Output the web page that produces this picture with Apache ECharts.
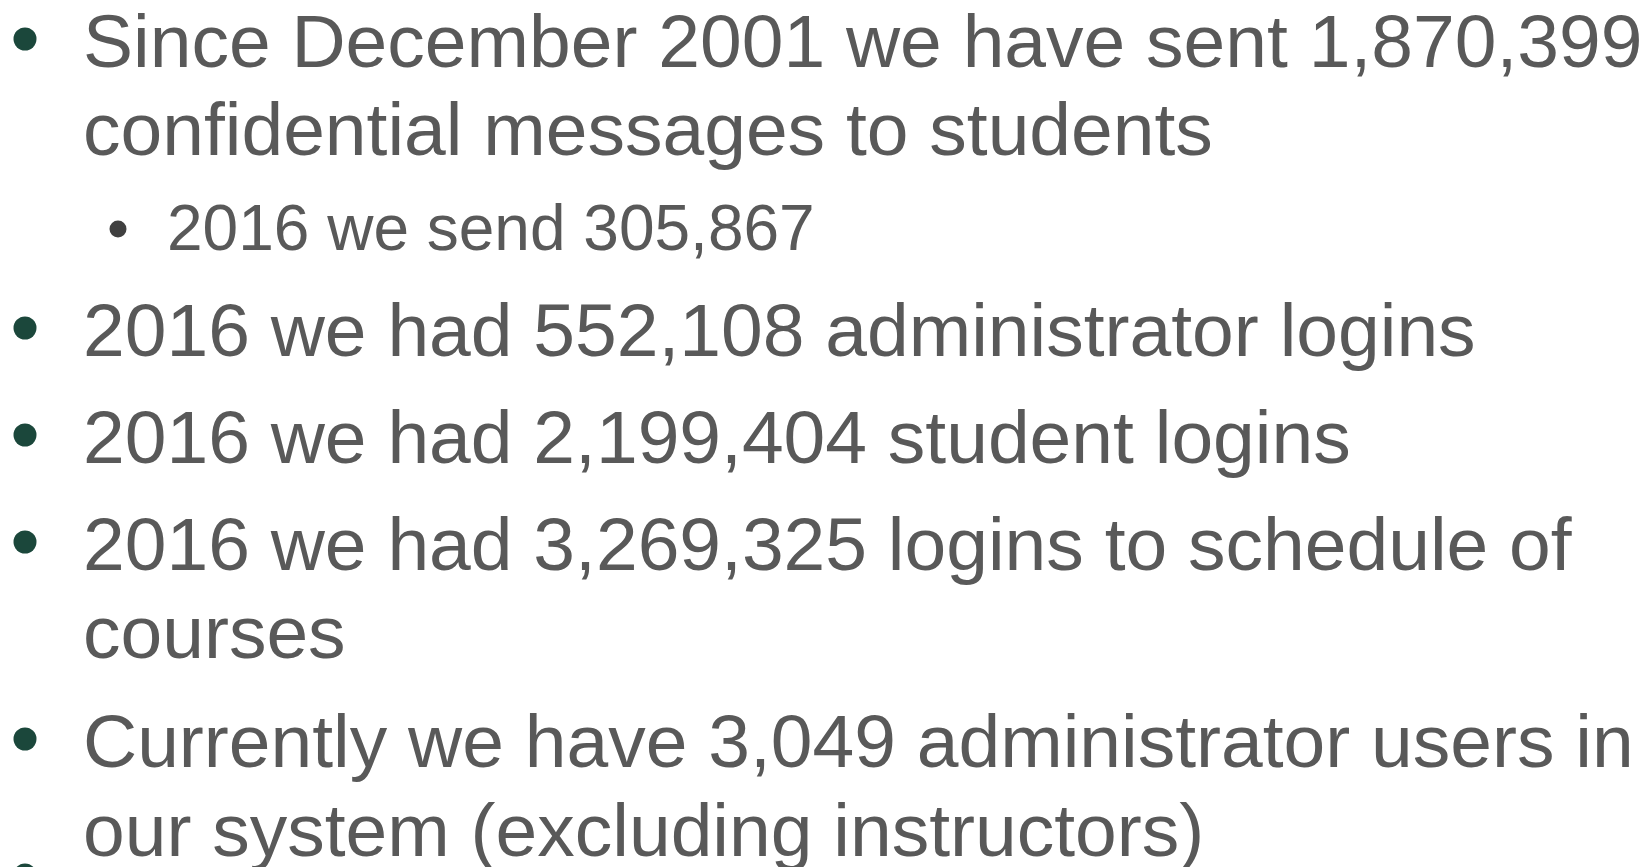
<!DOCTYPE html>
<html><head><meta charset="utf-8">
<script src="https://cdn.jsdelivr.net/npm/echarts@6/dist/echarts.min.js"></script>
<style>html,body{margin:0;padding:0;background:#fff}#c{width:1650px;height:867px}</style>
</head><body><div id="c"></div>
<script>
// Slide content: each paragraph is a bullet; wrapped lines as shown in the reference
const paragraphLines = [
  ["Since December 2001 we have sent 1,870,399", "confidential messages to students"],
  ["2016 we send 305,867"],
  ["2016 we had 552,108 administrator logins"],
  ["2016 we had 2,199,404 student logins"],
  ["2016 we had 3,269,325 logins to schedule of", "courses"],
  ["Currently we have 3,049 administrator users in", "our system (excluding instructors)"]
];
const paragraphLevels = [1, 2, 1, 1, 1, 1];

// ---- layout (not data) ----
const lineBaselines = [67, 155, 250, 356, 463, 570, 658, 767, 856];
const levelStyle = {
  1: { fontSize: 75, textX: 83, bulletX: 25, bulletDy: 28, bulletR: 11.5, bulletColor: '#1b473b' },
  2: { fontSize: 64, textX: 167, bulletX: 118, bulletDy: 21, bulletR: 8.5, bulletColor: '#404040' }
};
const FONT = '"Liberation Sans", Arial, Helvetica, sans-serif';
const TEXT_COLOR = '#595959';
const MIDDLE_OFFSET = 0.28; // baseline - middle, in em

const elements = [];
let li = 0;
paragraphLines.forEach((lines, p) => {
  const st = levelStyle[paragraphLevels[p]];
  lines.forEach((t, k) => {
    const base = lineBaselines[li++];
    const mid = base - MIDDLE_OFFSET * st.fontSize;
    if (k === 0) {
      elements.push({
        type: 'circle', silent: true,
        shape: { cx: st.bulletX, cy: base - st.bulletDy, r: st.bulletR },
        style: { fill: st.bulletColor }
      });
    }
    elements.push({
      type: 'text', silent: true, x: st.textX, y: mid,
      style: {
        text: t, fontSize: st.fontSize, fontFamily: FONT, fill: TEXT_COLOR,
        align: 'left', verticalAlign: 'middle'
      }
    });
  });
});
// bullet of the next paragraph, cut off by the bottom edge
elements.push({
  type: 'circle', silent: true,
  shape: { cx: 25, cy: 875, r: 11.5 },
  style: { fill: levelStyle[1].bulletColor }
});

const chart = echarts.init(document.getElementById('c'), null, { renderer: 'canvas' });
chart.setOption({
  backgroundColor: '#ffffff',
  animation: false,
  graphic: { elements: elements }
});
</script>
</body></html>
